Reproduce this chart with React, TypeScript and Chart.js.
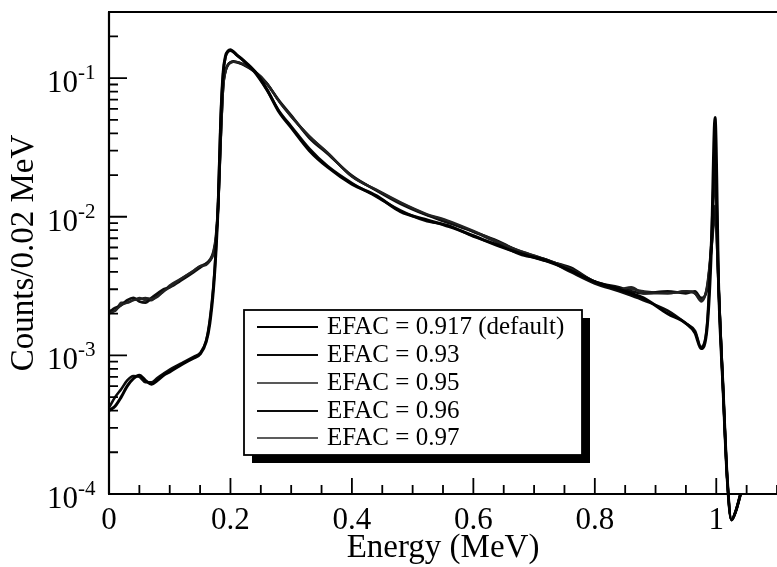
import React, { useEffect, useRef } from 'react';
import { Chart, registerables } from 'chart.js';

Chart.register(...registerables);

// ---------------- data ----------------
const ENERGY = [
  0, 0.01, 0.02, 0.03, 0.04, 0.05, 0.06, 0.07, 0.08, 0.09,
  0.1, 0.12, 0.14, 0.15, 0.16, 0.166, 0.172, 0.176, 0.18, 0.184,
  0.188, 0.192, 0.196, 0.2, 0.205, 0.21, 0.22, 0.24, 0.26, 0.28,
  0.3, 0.33, 0.36, 0.4, 0.44, 0.48, 0.52, 0.56, 0.6, 0.64,
  0.68, 0.72, 0.76, 0.8, 0.84, 0.86, 0.88, 0.92, 0.95, 0.965,
  0.975, 0.985, 0.992, 0.998, 1.004, 1.011, 1.018, 1.025, 1.032, 1.04,
];

const EFAC_0917 = [
  0.0004, 0.00043, 0.0005, 0.0006, 0.00068, 0.00072, 0.00066, 0.00062, 0.00066, 0.00072,
  0.00076, 0.00086, 0.00096, 0.00102, 0.00125, 0.0017, 0.003, 0.0055, 0.013, 0.05,
  0.11, 0.145, 0.157, 0.16, 0.155, 0.148, 0.136, 0.112, 0.083, 0.057,
  0.044, 0.03, 0.0228, 0.0172, 0.0142, 0.0109, 0.0096, 0.0085, 0.0073, 0.0062,
  0.0054, 0.0048, 0.0041, 0.0034, 0.003, 0.0028, 0.0026, 0.002, 0.0017, 0.00145,
  0.00112, 0.0016, 0.006, 0.052, 0.003, 0.0006, 0.00013, 0.000065, 0.000075, 0.0001,
];

const EFAC_093 = [
  0.00042, 0.0005, 0.00057, 0.00066, 0.00071, 0.0007, 0.00064, 0.00064, 0.00069, 0.00074,
  0.00079, 0.00088, 0.00098, 0.00104, 0.00128, 0.0018, 0.0032, 0.0058, 0.014, 0.052,
  0.108, 0.143, 0.155, 0.158, 0.154, 0.147, 0.135, 0.11, 0.082, 0.058,
  0.045, 0.031, 0.0232, 0.0175, 0.014, 0.0111, 0.0094, 0.0086, 0.0072, 0.0063,
  0.0053, 0.0049, 0.004, 0.0033, 0.0029, 0.0027, 0.0025, 0.0021, 0.0017, 0.0015,
  0.00115, 0.0017, 0.007, 0.026, 0.003, 0.0006, 0.00013, 0.000065, 0.000075, 0.0001,
];

const EFAC_095 = [
  0.002, 0.0021, 0.0023, 0.0024, 0.0025, 0.00255, 0.0026, 0.00255, 0.00265, 0.0029,
  0.0031, 0.0036, 0.0041, 0.0044, 0.0045, 0.0048, 0.0055, 0.007, 0.012, 0.035,
  0.085, 0.112, 0.124, 0.129, 0.131, 0.131, 0.127, 0.112, 0.092, 0.068,
  0.053, 0.038, 0.029, 0.0195, 0.0157, 0.0127, 0.0106, 0.0093, 0.0079, 0.0066,
  0.0056, 0.0049, 0.0042, 0.0034, 0.003, 0.0031, 0.0028, 0.0028, 0.0029, 0.0028,
  0.0025, 0.0032, 0.0065, 0.018, 0.003, 0.0006, 0.00013, 0.000065, 0.000075, 0.0001,
];

const EFAC_096 = [
  0.00205, 0.0022, 0.0023, 0.0025, 0.0026, 0.00245, 0.0024, 0.0026, 0.0028, 0.003,
  0.0031, 0.0035, 0.004, 0.0043, 0.0046, 0.0049, 0.0056, 0.0072, 0.013, 0.038,
  0.088, 0.114, 0.125, 0.13, 0.132, 0.131, 0.126, 0.111, 0.091, 0.069,
  0.054, 0.037, 0.0285, 0.0198, 0.0155, 0.0124, 0.0104, 0.009, 0.0078, 0.0067,
  0.0055, 0.0048, 0.0043, 0.0034, 0.0031, 0.0029, 0.0028, 0.0029, 0.0028, 0.0029,
  0.0026, 0.003, 0.006, 0.012, 0.003, 0.0006, 0.00013, 0.000065, 0.000075, 0.0001,
];

const EFAC_097 = [
  0.0021, 0.0021, 0.0024, 0.0024, 0.0025, 0.0026, 0.0025, 0.0025, 0.0027, 0.0029,
  0.0032, 0.0036, 0.0041, 0.0044, 0.0046, 0.0048, 0.0054, 0.0068, 0.012, 0.036,
  0.086, 0.113, 0.125, 0.13, 0.131, 0.13, 0.126, 0.112, 0.092, 0.068,
  0.053, 0.038, 0.0288, 0.0196, 0.0156, 0.0126, 0.0105, 0.0092, 0.0078, 0.0065,
  0.0056, 0.0049, 0.0042, 0.0034, 0.003, 0.003, 0.0029, 0.0028, 0.0029, 0.0028,
  0.00245, 0.0031, 0.0058, 0.01, 0.003, 0.0006, 0.00013, 0.000065, 0.000075, 0.0001,
];

const SERIES_LABELS = [
  'EFAC = 0.917 (default)',
  'EFAC = 0.93',
  'EFAC = 0.95',
  'EFAC = 0.96',
  'EFAC = 0.97',
];
const SERIES_VALUES = [EFAC_0917, EFAC_093, EFAC_095, EFAC_096, EFAC_097];
const SERIES_COLORS = ['#000000', '#0a0a0a', '#222222', '#0d0d0d', '#262626'];
const SERIES_WIDTHS = [3, 2.6, 2.4, 2.6, 2.4];

const X_MAJOR_TICKS = [0, 0.2, 0.4, 0.6, 0.8, 1];
const X_TICK_LABELS = ['0', '0.2', '0.4', '0.6', '0.8', '1'];
const X_MINOR_STEP = 0.05;
const Y_DECADES = [-4, -3, -2, -1];
const X_MIN = 0;
const X_MAX = 1.1;
const Y_MIN = 1e-4;
const Y_MAX = 0.3;

const FONT = '"Liberation Serif", "Times New Roman", Times, serif';

// ---------------- plugins ----------------
const axesPlugin = {
  id: 'frameAxes',
  afterDatasetsDraw(chart: any) {
    const { ctx, chartArea } = chart;
    const xs = chart.scales.x;
    const ys = chart.scales.y;
    const { left, right, top, bottom } = chartArea;
    ctx.save();
    ctx.strokeStyle = '#000';
    ctx.lineCap = 'butt';

    // frame: left, bottom, top
    ctx.lineWidth = 2.2;
    ctx.beginPath();
    ctx.moveTo(left, top);
    ctx.lineTo(left, bottom);
    ctx.moveTo(left - 1, bottom);
    ctx.lineTo(right, bottom);
    ctx.moveTo(left - 1, top);
    ctx.lineTo(right, top);
    ctx.stroke();

    // x ticks (inward)
    ctx.lineWidth = 1.8;
    ctx.beginPath();
    const nMinor = Math.round((X_MAX - X_MIN) / X_MINOR_STEP);
    for (let i = 1; i <= nMinor; i++) {
      const v = X_MIN + i * X_MINOR_STEP;
      const isMajor = X_MAJOR_TICKS.some((m) => Math.abs(m - v) < 1e-6);
      const px = xs.getPixelForValue(v);
      if (px > right + 0.5) continue;
      const len = isMajor ? 16 : 9;
      ctx.moveTo(px, bottom);
      ctx.lineTo(px, bottom - len);
    }
    // y ticks (inward)
    for (const d of Y_DECADES) {
      const base = Math.pow(10, d);
      const py = ys.getPixelForValue(base);
      ctx.moveTo(left, py);
      ctx.lineTo(left + 18, py);
      for (let m = 2; m <= 9; m++) {
        const v = m * base;
        if (v > Y_MAX * 1.0001) break;
        const pm = ys.getPixelForValue(v);
        ctx.moveTo(left, pm);
        ctx.lineTo(left + 9, pm);
      }
    }
    ctx.stroke();

    // y tick labels 10^n
    ctx.fillStyle = '#000';
    for (const d of Y_DECADES) {
      const py = ys.getPixelForValue(Math.pow(10, d));
      const xr = left - 31;
      ctx.font = `31px ${FONT}`;
      ctx.textAlign = 'right';
      ctx.textBaseline = 'alphabetic';
      ctx.fillText('10', xr, py + 14);
      ctx.font = `21px ${FONT}`;
      ctx.textAlign = 'left';
      ctx.fillText(String(d), xr, py + 1);
    }
    ctx.restore();
  },
};

const legendPlugin = {
  id: 'boxLegend',
  afterDraw(chart: any) {
    const { ctx } = chart;
    const bx = 244;
    const by = 310;
    const bw = 338;
    const bh = 145;
    ctx.save();
    ctx.fillStyle = '#000';
    ctx.fillRect(bx + 8, by + 8, bw, bh);
    ctx.fillStyle = '#fff';
    ctx.fillRect(bx, by, bw, bh);
    ctx.strokeStyle = '#000';
    ctx.lineWidth = 1.8;
    ctx.strokeRect(bx, by, bw, bh);
    const rowY = [326, 354, 382, 410, 437];
    chart.data.datasets.forEach((ds: any, i: number) => {
      const y = rowY[i];
      ctx.strokeStyle = ds.borderColor;
      ctx.lineWidth = Math.max(1.6, ds.borderWidth - 0.8);
      ctx.beginPath();
      ctx.moveTo(257, y + 1);
      ctx.lineTo(318, y + 1);
      ctx.stroke();
      ctx.fillStyle = '#000';
      ctx.font = `25px ${FONT}`;
      ctx.textAlign = 'left';
      ctx.textBaseline = 'middle';
      ctx.fillText(ds.label, 327, y + 1);
    });
    ctx.restore();
  },
};

export default function App() {
  const canvasRef = useRef<HTMLCanvasElement | null>(null);

  useEffect(() => {
    document.body.style.margin = '0';
    const canvas = canvasRef.current;
    if (!canvas) return;
    const datasets = SERIES_VALUES.map((vals, si) => ({
      label: SERIES_LABELS[si],
      data: ENERGY.map((e, i) => ({ x: e, y: vals[i] })),
      borderColor: SERIES_COLORS[si],
      backgroundColor: SERIES_COLORS[si],
      borderWidth: SERIES_WIDTHS[si],
      pointRadius: 0,
      fill: false,
      cubicInterpolationMode: 'monotone' as const,
      clip: false as any,
    }));
    const chart = new Chart(canvas, {
      type: 'line',
      data: { datasets },
      options: {
        animation: false,
        responsive: false,
        devicePixelRatio: 1,
        layout: { padding: { top: 12, right: 0, left: 0, bottom: 0 } },
        plugins: {
          legend: { display: false },
          tooltip: { enabled: false },
        },
        scales: {
          x: {
            type: 'linear',
            min: X_MIN,
            max: X_MAX,
            afterBuildTicks: (s: any) => {
              s.ticks = X_MAJOR_TICKS.map((v) => ({ value: v }));
            },
            afterFit: (s: any) => {
              s.height = 73;
            },
            grid: { display: false, drawTicks: false },
            border: { display: false },
            ticks: {
              padding: 8,
              color: '#000',
              maxRotation: 0,
              autoSkip: false,
              font: { family: FONT, size: 31 },
              callback: (_v: any, i: number) => X_TICK_LABELS[i],
            },
            title: {
              display: true,
              text: 'Energy (MeV)',
              color: '#000',
              font: { family: FONT, size: 33, lineHeight: 1 },
              padding: { top: 0, bottom: 2 },
            },
          },
          y: {
            type: 'logarithmic',
            min: Y_MIN,
            max: Y_MAX,
            afterFit: (s: any) => {
              s.width = 109;
            },
            grid: { display: false, drawTicks: false },
            border: { display: false },
            ticks: { display: false },
            title: {
              display: true,
              text: 'Counts/0.02 MeV',
              color: '#000',
              font: { family: FONT, size: 33, lineHeight: 1 },
              padding: { top: 8, bottom: 0 },
            },
          },
        },
      },
      plugins: [axesPlugin, legendPlugin],
    });
    return () => chart.destroy();
  }, []);

  return (
    <div style={{ position: 'absolute', left: 0, top: 0, width: 777, height: 567 }}>
      <canvas ref={canvasRef} width={777} height={567} style={{ display: 'block' }} />
    </div>
  );
}
